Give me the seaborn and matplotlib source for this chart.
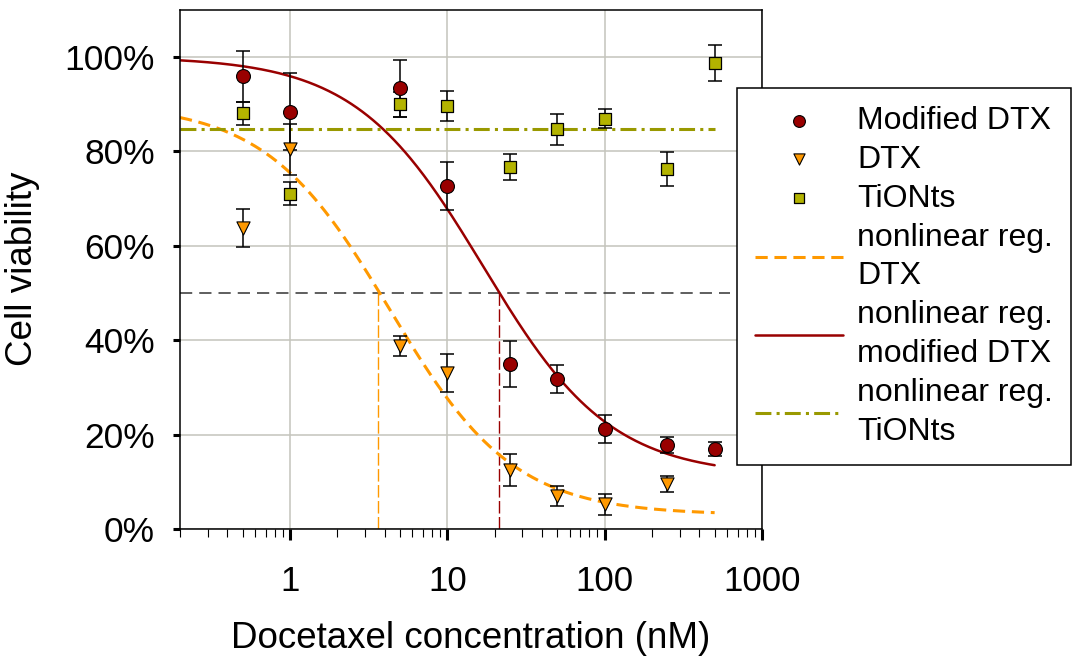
import numpy as np
import pandas as pd
import matplotlib
matplotlib.use("Agg")
import matplotlib.pyplot as plt
import seaborn as sns
from matplotlib.ticker import FixedLocator, LogLocator, NullFormatter, FuncFormatter

# ---------------- data ----------------
conc = [0.5, 1, 5, 10, 25, 50, 100, 250, 500]
mod_dtx = [95.9, 88.4, 93.3, 72.7, 35.0, 31.7, 21.2, 17.8, 17.0]
mod_dtx_err = [5.4, 8.2, 6.0, 5.1, 4.9, 3.0, 3.0, 1.7, 1.5]

dtx_conc = [0.5, 1, 5, 10, 25, 50, 100, 250]
dtx = [63.8, 80.4, 38.7, 33.0, 12.5, 7.0, 5.2, 9.5]
dtx_err = [4.0, 5.4, 2.1, 4.0, 3.3, 2.2, 2.3, 1.7]

tionts = [88.0, 71.0, 89.9, 89.6, 76.6, 84.6, 86.9, 76.3, 98.6]
tionts_err = [2.4, 2.4, 2.7, 3.2, 2.7, 3.3, 2.0, 3.6, 3.8]

# nonlinear regression (4-parameter logistic): top, bottom, EC, hill
fit_mod_dtx = [100.0, 11.2, 16.9, 1.07]
fit_dtx = [90.0, 3.0, 4.3, 1.1]
fit_tionts_level = 84.8
fit_range = [0.2, 500]

ic50_dtx = 3.63
ic50_mod_dtx = 21.4
half_line_range = [0.2, 630]

x_ticks = [1, 10, 100, 1000]
x_ticklabels = ["1", "10", "100", "1000"]
y_ticks = [0, 20, 40, 60, 80, 100]

# colours
c_mod = "#990000"
c_dtx = "#FF9900"
c_tio = "#B3B300"
c_tio_line = "#999900"

# ---------------- style ----------------
sns.set_style("white")
plt.rcParams["font.family"] = ["Liberation Sans", "DejaVu Sans"]
plt.rcParams["text.color"] = "black"
plt.rcParams["axes.labelcolor"] = "black"
plt.rcParams["xtick.color"] = "black"
plt.rcParams["ytick.color"] = "black"

fig = plt.figure(figsize=(10.74, 6.56), dpi=100)
ax = fig.add_axes([180 / 1074, 1 - 529 / 656, (762 - 180) / 1074, (529 - 9.5) / 656])


def logistic(x, p):
    top, bottom, ec, h = p
    x = np.asarray(x, dtype=float)
    return bottom + (top - bottom) / (1 + (x / ec) ** h)


xs = np.logspace(np.log10(fit_range[0]), np.log10(fit_range[1]), 400)
curves = pd.DataFrame({
    "x": xs,
    "dtx": logistic(xs, fit_dtx),
    "mod": logistic(xs, fit_mod_dtx),
    "tio": np.full_like(xs, fit_tionts_level),
})

# reference lines
ax.plot(half_line_range, [50, 50], color="#333333", lw=1.1, ls=(0, (8, 4.6)), zorder=2)
ax.plot([ic50_dtx, ic50_dtx], [0, 50], color=c_dtx, lw=1.0, ls=(0, (9, 2.5)), zorder=2)
ax.plot([ic50_mod_dtx, ic50_mod_dtx], [0, 50], color=c_mod, lw=1.0, ls=(0, (9, 2.5)), zorder=2)

# regression curves
sns.lineplot(data=curves, x="x", y="dtx", ax=ax, color=c_dtx, lw=2.2,
             label="nonlinear reg.\nDTX", zorder=2.5)
ax.lines[-1].set_linestyle((0, (4.0, 2.2)))
sns.lineplot(data=curves, x="x", y="mod", ax=ax, color=c_mod, lw=1.8,
             label="nonlinear reg.\nmodified DTX", zorder=2.5)
sns.lineplot(data=curves, x="x", y="tio", ax=ax, color=c_tio_line, lw=2.2,
             label="nonlinear reg.\nTiONts", zorder=2.5)
ax.lines[-1].set_linestyle((0, (5.2, 1.7, 1.0, 1.7)))

# error bars
eb_kw = dict(fmt="none", ecolor="black", elinewidth=1.1, capsize=5, capthick=1.1, zorder=3)
ax.errorbar(conc, mod_dtx, yerr=mod_dtx_err, **eb_kw)
ax.errorbar(dtx_conc, dtx, yerr=dtx_err, **eb_kw)
ax.errorbar(conc, tionts, yerr=tionts_err, **eb_kw)

# points
sns.scatterplot(x=conc, y=mod_dtx, ax=ax, marker="o", s=100, color=c_mod,
                edgecolor="black", linewidth=0.8, label="Modified DTX", zorder=4)
sns.scatterplot(x=dtx_conc, y=dtx, ax=ax, marker="v", s=90, color=c_dtx,
                edgecolor="black", linewidth=0.8, label="DTX", zorder=4)
sns.scatterplot(x=conc, y=tionts, ax=ax, marker="s", s=72, color=c_tio,
                edgecolor="black", linewidth=0.9, label="TiONts", zorder=4)

# axes
ax.set_xscale("log")
ax.set_xlim(0.2, 1000)
ax.set_ylim(0, 110)
ax.xaxis.set_major_locator(FixedLocator(x_ticks))
ax.set_xticklabels(x_ticklabels)
ax.xaxis.set_minor_locator(LogLocator(base=10, subs=np.arange(2, 10)))
ax.xaxis.set_minor_formatter(NullFormatter())
ax.yaxis.set_major_locator(FixedLocator(y_ticks))
ax.yaxis.set_major_formatter(FuncFormatter(lambda v, p: f"{v:.0f}%"))

ax.grid(True, which="major", axis="both", color="#c4c4bc", lw=1.1, zorder=0)
ax.set_axisbelow(True)
for s in ax.spines.values():
    s.set_color("black")
    s.set_linewidth(1.1)
    s.set_visible(True)

ax.tick_params(axis="x", which="major", direction="out", length=8, width=2.2,
               labelsize=25, pad=18, color="black", bottom=True)
ax.tick_params(axis="x", which="minor", direction="out", length=5.5, width=0.8,
               color="black", bottom=True)
ax.tick_params(axis="y", which="major", direction="out", length=5, width=2.2,
               labelsize=25.5, pad=13, color="black", left=True)

ax.set_xlabel("Docetaxel concentration (nM)", fontsize=26.5)
ax.set_ylabel("Cell viability", fontsize=26.5)
ax.xaxis.set_label_coords(0.5, -0.177)
ax.yaxis.set_label_coords(-0.24, 0.5)

# legend
handles, labels = ax.get_legend_handles_labels()
order = ["Modified DTX", "DTX", "TiONts", "nonlinear reg.\nDTX",
         "nonlinear reg.\nmodified DTX", "nonlinear reg.\nTiONts"]
hmap = dict(zip(labels, handles))
if ax.get_legend():
    ax.get_legend().remove()
leg = fig.legend([hmap[l] for l in order], order, loc="upper left",
                 bbox_to_anchor=(737 / 1074, 1 - 88 / 656), bbox_transform=fig.transFigure,
                 fontsize=23, frameon=True, fancybox=False, edgecolor="black",
                 framealpha=1, handlelength=2.75, handletextpad=0.45, labelspacing=0.28,
                 borderpad=0.56, borderaxespad=0, markerscale=0.85)
leg.get_frame().set_linewidth(1.1)
for t in leg.get_texts():
    t.set_linespacing(1.38)
leg.set_zorder(10)

fig.savefig("out.png", dpi=100)
